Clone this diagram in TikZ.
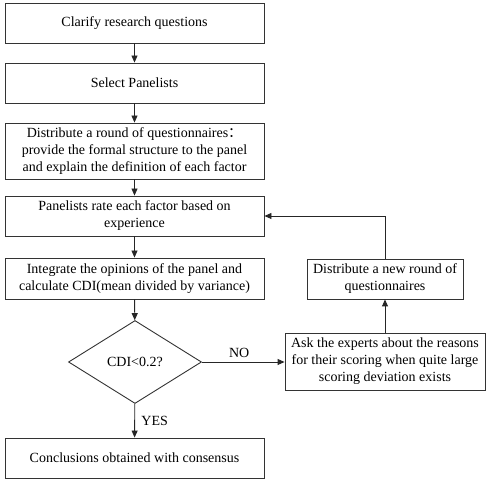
\documentclass[tikz,border=0pt]{standalone}
\usepackage{fontspec}
\setmainfont{Liberation Serif}
\newfontfamily\cjk{Noto Sans CJK SC}
\usetikzlibrary{shapes.geometric,arrows.meta}

\begin{document}
\begin{tikzpicture}[x=1pt,y=-1pt,
  box/.style={draw=black!80,line width=0.9pt,align=center,inner sep=0pt,
    font=\fontsize{14}{17}\selectfont},
  wide/.style={box,minimum width=259pt,minimum height=40pt},
  tag/.style={font=\fontsize{14}{17}\selectfont},
  flow/.style={draw=black!85,line width=0.9pt,-{Triangle[length=7pt,width=6pt]}}]
\useasboundingbox (0,0) rectangle (491,486);
\node[wide] (clarify) at (134.5,23) {Clarify research questions};
\node[wide] (select) at (134.5,83) {Select Panelists};
\node[wide,minimum height=56pt] (round) at (134.5,151) {Distribute a round of questionnaires{\cjk ：}\\
  provide the formal structure to the panel\\and explain the definition of each factor};
\node[wide] (rate) at (134.5,216) {Panelists rate each factor based on\\experience};
\node[wide,minimum height=41pt] (integrate) at (134.5,278.5) {Integrate the opinions of the panel and\\
  calculate CDI(mean divided by variance)};
\node[box,shape=diamond,minimum width=133pt,minimum height=83pt] (cdi) at (135,362) {CDI<0.2?};
\node[wide] (conclude) at (134.5,458) {Conclusions obtained with consensus};
\node[box,minimum width=200pt,minimum height=57pt] (ask) at (385,361.5) {Ask the experts about the reasons\\
  for their scoring when quite large\\scoring deviation exists};
\node[box,minimum width=156pt,minimum height=40pt] (newround) at (385,279) {Distribute a new round of\\questionnaires};
\coordinate (corner) at (newround.north |- rate.east);
\draw[flow] (clarify) -- (select);
\draw[flow] (select) -- (round);
\draw[flow] (round) -- (rate);
\draw[flow] (rate) -- (integrate);
\draw[flow] (integrate) -- (cdi);
\draw[flow] (cdi) -- node[right,tag,xshift=3pt] (yes) {YES} (conclude);
\draw[flow] (cdi.east) -- node[above,tag,xshift=-4pt,yshift=1pt] (no) {NO} (ask.west |- cdi.east);
\draw[flow] (ask) -- (newround);
\draw[flow] (newround.north) -- (corner) -- (rate.east);
\end{tikzpicture}
\end{document}
